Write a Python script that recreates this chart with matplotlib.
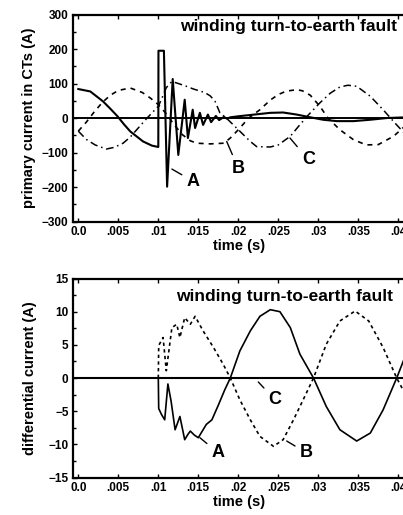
# winding turn-to-earth fault: CT primary currents and differential currents

import matplotlib
matplotlib.use("Agg")
import matplotlib.pyplot as plt
from matplotlib.ticker import MultipleLocator

plt.rcParams['font.family'] = ['Liberation Sans', 'DejaVu Sans']
plt.rcParams['font.weight'] = 'bold'

# --- primary current in CTs (A) ---
t_pa = [0, 0.0015, 0.0031, 0.0040, 0.0049, 0.0057, 0.0065, 0.0081, 0.0092, 0.0100,
        0.01002, 0.0107, 0.0111, 0.0118, 0.0125, 0.0133, 0.0137, 0.0143, 0.0146,
        0.0152, 0.0156, 0.0162, 0.0166, 0.0172, 0.0176, 0.0182, 0.0186, 0.019,
        0.020, 0.022, 0.024, 0.0256, 0.0273, 0.0288, 0.0306, 0.0323, 0.0344,
        0.0365, 0.0386, 0.041]
i_pa = [84, 77, 48, 27, 5, -18, -39, -68, -80, -84,
        195, 195, -199, 113, -107, 53, -58, 24, -29,
        15, -20, 10, -12, 6, -6, 3, -2, 2,
        5, 10, 15, 16, 10, 3, -5, -9, -9,
        -5, 0, 2]

t_pb = [0, 0.001, 0.002, 0.003, 0.004, 0.005, 0.0065, 0.008, 0.009, 0.010, 0.011,
        0.012, 0.013, 0.014, 0.0148, 0.0165, 0.0182, 0.019, 0.020, 0.0213, 0.022,
        0.0227, 0.024, 0.025, 0.026, 0.0273, 0.028, 0.029, 0.0302, 0.0312, 0.0327,
        0.0344, 0.036, 0.0375, 0.0394, 0.041]
i_pb = [-38, -12, 18, 45, 66, 80, 87, 74, 58, 39, 12,
        -20, -48, -66, -73, -75, -73, -58, -34, 0, 12,
        24, 52, 68, 78, 82, 79, 66, 34, 0, -34,
        -63, -78, -77, -53, -20]

t_pc = [0, 0.001, 0.0021, 0.0035, 0.0045, 0.0056, 0.0065, 0.0073, 0.0086, 0.010,
        0.0105, 0.011, 0.0117, 0.0125, 0.0135, 0.0144, 0.0158, 0.0165, 0.0171,
        0.0177, 0.0185, 0.020, 0.0215, 0.0223, 0.024, 0.025, 0.0265, 0.0275,
        0.0286, 0.0302, 0.0315, 0.0327, 0.0337, 0.0348, 0.0365, 0.0381, 0.0396, 0.041]
i_pc = [-38, -62, -78, -90, -85, -73, -55, -34, 0, 34,
        60, 88, 106, 100, 92, 84, 74, 64, 48,
        15, 0, -34, -68, -83, -84, -78, -53, -25,
        5, 44, 72, 90, 95, 92, 63, 24, -15, -50]

# --- differential current (A) ---
t_da = [0, 0.0100, 0.01005, 0.0104, 0.0108, 0.0112, 0.0116, 0.0121, 0.0127, 0.0133,
        0.0137, 0.014, 0.0145, 0.015, 0.016, 0.0167, 0.0175, 0.0183, 0.019, 0.0202,
        0.0215, 0.0227, 0.024, 0.0252, 0.0265, 0.0277, 0.0294, 0.031, 0.0327,
        0.0348, 0.0365, 0.0381, 0.0398, 0.0409]
i_da = [0, 0, -4.6, -5.5, -6.3, -0.9, -3.5, -7.8, -5.8, -9.3,
        -8.5, -8, -8.6, -9, -7, -6.3, -4.1, -1.8, 0, 4.1,
        7.1, 9.3, 10.3, 10, 7.6, 3.6, 0, -4.3, -7.8,
        -9.5, -8.3, -4.8, 0, 3.4]

t_db = [0, 0.0100, 0.01005, 0.0106, 0.011, 0.0117, 0.0123, 0.0127, 0.0133, 0.014,
        0.0146, 0.0156, 0.0169, 0.0181, 0.019, 0.0202, 0.0215, 0.0227, 0.0244,
        0.0256, 0.0269, 0.0281, 0.0294, 0.031, 0.0327, 0.0346, 0.0363, 0.0381,
        0.0398, 0.0409]
i_db = [0, 0, 4.9, 6.1, 1.1, 7.6, 8.1, 6.1, 9.1, 8.1,
        9.3, 7.1, 4.6, 2.1, 0, -3.3, -6.3, -8.8, -10.3,
        -9.3, -6.3, -3.3, 0, 5.1, 8.6, 10.1, 8.6, 4.6,
        0, -2.5]

t_dc = [-0.0007, 0.041]
i_dc = [0, 0]

xticks = [0, 0.005, 0.01, 0.015, 0.02, 0.025, 0.03, 0.035, 0.04]
xticklabels = ['0.0', '.005', '.01', '.015', '.02', '.025', '.03', '.035', '.04']
title = 'winding turn-to-earth fault'

fig = plt.figure(figsize=(4.03, 5.15), dpi=100)
ax1 = fig.add_axes([0.1804, 0.5699, 0.8278, 0.4019])
ax2 = fig.add_axes([0.1804, 0.0728, 0.8278, 0.3864])


def style(ax):
    ax.set_xlim(-0.0007, 0.041)
    ax.set_xticks(xticks)
    ax.set_xticklabels(xticklabels)
    for s in ax.spines.values():
        s.set_linewidth(1.6)
    ax.tick_params(direction='in', which='both', top=True, right=False,
                   labelsize=8.5, width=1, pad=3)
    ax.tick_params(which='major', length=3)
    ax.tick_params(which='minor', length=2)
    ax.set_xlabel('time (s)', fontsize=10.5, fontweight='bold', labelpad=1)


# top panel
ax1.axhline(0, color='k', lw=1.4)
ax1.plot(t_pa, i_pa, '-', color='k', lw=1.5)
ax1.plot(t_pb, i_pb, color='k', lw=1.2, dashes=(3, 3))
ax1.plot(t_pc, i_pc, color='k', lw=1.1, dashes=(5, 2.5, 1, 2.5))
ax1.set_ylim(-300, 300)
ax1.set_yticks([-300, -200, -100, 0, 100, 200, 300])
ax1.yaxis.set_minor_locator(MultipleLocator(50))
style(ax1)
ax1.set_ylabel('primary current in CTs (A)', fontsize=10.5, fontweight='bold', labelpad=4)
ax1.text(0.0263, 266, title, fontsize=12.5, fontweight='bold', ha='center', va='center')

lead = dict(arrowstyle='-', color='k', lw=1, shrinkA=2, shrinkB=0)
ax1.annotate('A', xy=(0.0117, -148), xytext=(0.0144, -184), fontsize=13,
             fontweight='bold', ha='center', va='center', arrowprops=lead)
ax1.annotate('B', xy=(0.01855, -68), xytext=(0.0200, -146), fontsize=13,
             fontweight='bold', ha='center', va='center', arrowprops=lead)
ax1.annotate('C', xy=(0.02646, -58), xytext=(0.02875, -121), fontsize=13,
             fontweight='bold', ha='center', va='center', arrowprops=lead)

# bottom panel
ax2.plot(t_dc, i_dc, '-', color='k', lw=1.5)
ax2.plot(t_da, i_da, '-', color='k', lw=1.2)
ax2.plot(t_db, i_db, color='k', lw=1.2, dashes=(2, 2))
ax2.set_ylim(-15, 15)
ax2.set_yticks([-15, -10, -5, 0, 5, 10, 15])
ax2.yaxis.set_minor_locator(MultipleLocator(2.5))
style(ax2)
ax2.set_ylabel('differential current (A)', fontsize=10.5, fontweight='bold', labelpad=8)
ax2.text(0.0258, 12.3, title, fontsize=12.5, fontweight='bold', ha='center', va='center')

ax2.annotate('A', xy=(0.0152, -9.0), xytext=(0.0175, -11.3), fontsize=13,
             fontweight='bold', ha='center', va='center', arrowprops=lead)
ax2.annotate('B', xy=(0.02605, -9.5), xytext=(0.02855, -11.3), fontsize=13,
             fontweight='bold', ha='center', va='center', arrowprops=lead)
ax2.annotate('C', xy=(0.0225, -0.6), xytext=(0.0246, -3.3), fontsize=13,
             fontweight='bold', ha='center', va='center', arrowprops=lead)

fig.savefig('out.png', dpi=100)
